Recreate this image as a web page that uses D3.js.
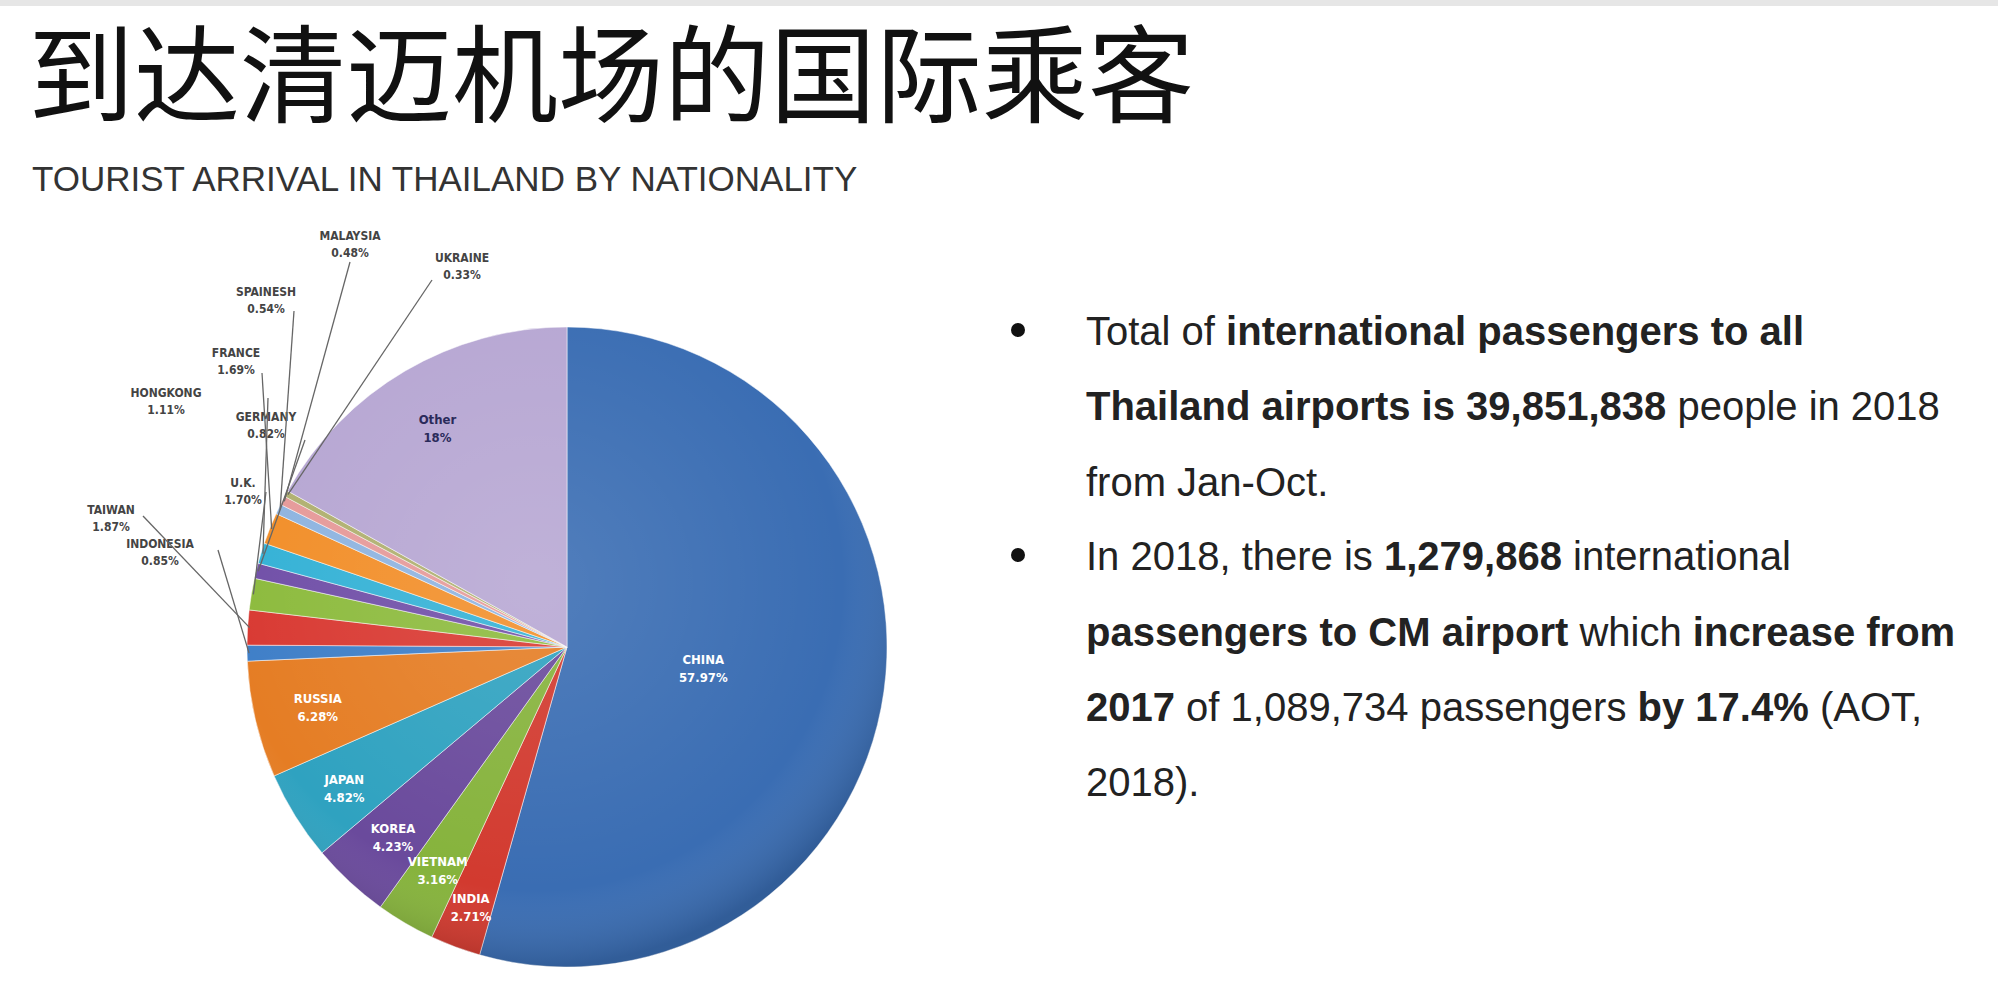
<!DOCTYPE html>
<html><head><meta charset="utf-8">
<script src="https://cdn.jsdelivr.net/npm/d3@7"></script>
<style>body{margin:0;background:#fff}svg{display:block}</style>
</head><body>
<svg id="c" width="1998" height="992"></svg>
<script>
const countries = ["CHINA","INDIA","VIETNAM","KOREA","JAPAN","RUSSIA","INDONESIA","TAIWAN","U.K.","GERMANY","HONGKONG","FRANCE","SPAINESH","MALAYSIA","UKRAINE","Other"];
const shares = [57.97,2.71,3.16,4.23,4.82,6.28,0.85,1.87,1.70,0.82,1.11,1.69,0.54,0.48,0.33,18];
const shareLabels = ["57.97%","2.71%","3.16%","4.23%","4.82%","6.28%","0.85%","1.87%","1.70%","0.82%","1.11%","1.69%","0.54%","0.48%","0.33%","18%"];
const colors = ["#3a6db3","#d23a2f","#86b33c","#6a4a9c","#2fa2c0","#e57d24","#3f7fc8","#d93a33","#8dbb3e","#7150a8","#35b2d6","#f28f2a","#8fb4e0","#e69a9a","#b0b070","#b7a7d3"];

const svg = d3.select("#c");
const cx=567, cy=647, r=320;
svg.append("rect").attr("width",1998).attr("height",6).attr("fill","#e6e6e6");
svg.append("text").attr("x",28).attr("y",114).attr("font-family","Noto Sans CJK SC").attr("font-size",106).attr("fill","#111").text("到达清迈机场的国际乘客");
svg.append("text").attr("x",32).attr("y",191).attr("font-family","Liberation Sans, Arial").attr("font-size",35).attr("fill","#333").text("TOURIST ARRIVAL IN THAILAND BY NATIONALITY");

const defs=svg.append("defs");
const g0=defs.append("radialGradient").attr("id","shade").attr("cx","45%").attr("cy","40%").attr("r","60%");
g0.append("stop").attr("offset","0%").attr("stop-color","#fff").attr("stop-opacity",0.12);
g0.append("stop").attr("offset","80%").attr("stop-color","#fff").attr("stop-opacity",0);
g0.append("stop").attr("offset","100%").attr("stop-color","#000").attr("stop-opacity",0.15);

const data = countries.map((c,i)=>({c,v:shares[i],l:shareLabels[i],col:colors[i]}));
const pie = d3.pie().value(d=>d.v).sort(null);
const arcs = pie(data);
const arc = d3.arc().innerRadius(0).outerRadius(r);
const g = svg.append("g").attr("transform",`translate(${cx},${cy})`);
g.selectAll("path.s").data(arcs).join("path").attr("class","s").attr("d",arc)
 .attr("fill",d=>d.data.col).attr("stroke","rgba(255,255,255,0.5)").attr("stroke-width",1);
g.append("circle").attr("r",r).attr("fill","url(#shade)");

const inside = {"CHINA":[0.43],"INDIA":[0.86],"VIETNAM":[0.8],"KOREA":[0.8],"JAPAN":[0.82],"RUSSIA":[0.8],"Other":[0.8]};
arcs.forEach(a=>{
  const s=inside[a.data.c]; if(!s) return;
  const [x,y]=d3.arc().innerRadius(0).outerRadius(2*r*s[0]).centroid(a);
  const t=g.append("text").attr("text-anchor","middle").attr("font-family","DejaVu Sans Condensed").attr("font-weight","bold").attr("font-size",13)
   .attr("fill",a.data.c==="Other"?"#2a2a5a":"#fff");
  t.append("tspan").attr("x",x).attr("y",y-2).text(a.data.c);
  t.append("tspan").attr("x",x).attr("y",y+16).text(a.data.l);
});

const outside = {
 "MALAYSIA":[350,240,[350,262]],
 "UKRAINE":[462,262,[432,280]],
 "SPAINESH":[266,296,[294,311]],
 "FRANCE":[236,357,[262,373]],
 "HONGKONG":[166,397,[268,398]],
 "GERMANY":[266,421,[305,440]],
 "U.K.":[243,487,[266,492]],
 "TAIWAN":[111,514,[143,516]],
 "INDONESIA":[160,548,[218,550]]
};
arcs.forEach(a=>{
  const o=outside[a.data.c]; if(!o) return;
  const m=(a.startAngle+a.endAngle)/2;
  const px=cx+Math.sin(m)*(r-2), py=cy-Math.cos(m)*(r-2);
  svg.append("polyline").attr("points",`${o[2][0]},${o[2][1]} ${px},${py}`)
   .attr("fill","none").attr("stroke","#666").attr("stroke-width",1.3);
  const t=svg.append("text").attr("text-anchor","middle").attr("font-family","DejaVu Sans Condensed").attr("font-weight","bold").attr("font-size",12).attr("fill","#444");
  t.append("tspan").attr("x",o[0]).attr("y",o[1]).text(a.data.c);
  t.append("tspan").attr("x",o[0]).attr("y",o[1]+17).text(a.data.l);
});

const lines=[
 [[ "Total of ",0],["international passengers to all",1]],
 [["Thailand airports is 39,851,838",1],[" people in 2018",0]],
 [["from Jan-Oct.",0]],
 [["In 2018, there is ",0],["1,279,868",1],[" international",0]],
 [["passengers to CM airport",1],[" which ",0],["increase from",1]],
 [["2017",1],[" of 1,089,734 passengers ",0],["by 17.4%",1],[" (AOT,",0]],
 [["2018).",0]]
];
const ys=[345,420,496,570,646,721,796];
lines.forEach((ln,i)=>{
  const t=svg.append("text").attr("x",1086).attr("y",ys[i]).attr("font-family","Liberation Sans, Arial").attr("font-size",40).attr("fill","#222");
  ln.forEach(([s,b])=>t.append("tspan").attr("font-weight",b?"bold":"normal").text(s));
});
[330,555].forEach(y=>svg.append("circle").attr("cx",1018).attr("cy",y).attr("r",7).attr("fill","#111"));
</script></body></html>
